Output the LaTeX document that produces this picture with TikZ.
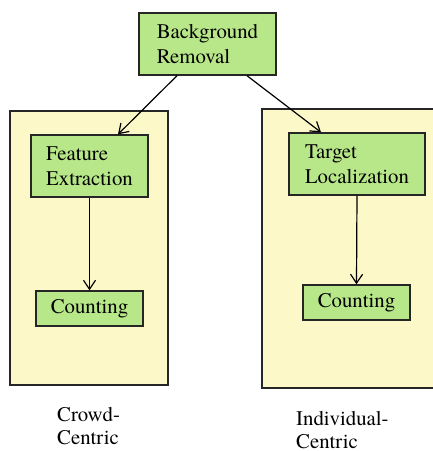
\documentclass[tikz,border=0pt]{standalone}
\usepackage{fontspec}
\setmainfont{TeX Gyre Termes}
\usetikzlibrary{arrows.meta}
\definecolor{boxgreen}{RGB}{184,231,137}
\definecolor{paleyellow}{RGB}{252,248,200}
\begin{document}
\begin{tikzpicture}[x=1pt,y=-1pt,
  every node/.style={font=\fontsize{20.8}{25}\selectfont},
  container/.style={draw=black!85,line width=1.2pt,fill=paleyellow,inner sep=0pt},
  stage/.style={draw=black!85,line width=1.4pt,fill=boxgreen,align=left,inner sep=0pt},
  flow/.style={line width=1.2pt,-{Straight Barb[length=9pt,width=12pt,line width=1.2pt]}},
  caption/.style={align=left,inner sep=0pt,anchor=north west,font=\fontsize{20.8}{23.5}\selectfont}]
\useasboundingbox (0,0) rectangle (433,451);
\node[container,minimum width=158pt,minimum height=274pt] (lc) at (89,248) {};
\node[container,minimum width=174pt,minimum height=279pt] (rc) at (349,248.5) {};
\node[stage,minimum width=137pt,minimum height=62pt] (br) at (207.5,44) {Background\\Removal};
\node[stage,minimum width=117pt,minimum height=62pt] (fe) at (89.5,166) {Feature\\Extraction};
\node[stage,minimum width=136pt,minimum height=62pt] (tl) at (357,164) {Target\\Localization};
\node[stage,minimum width=107pt,minimum height=35pt] (cl) at (89.5,308.5) {Counting};
\node[stage,minimum width=107pt,minimum height=35pt] (cr) at (356.5,302.5) {Counting};
\draw[flow] ([xshift=-30.5pt]br.south) -- ([xshift=28.5pt]fe.north);
\draw[flow] ([xshift=39.5pt]br.south) -- ([xshift=-36pt]tl.north);
\draw[flow] (fe.south) -- (cl.north);
\draw[flow] (tl.south) -- (cr.north);
\node[caption] (lcap) at (57,407) {Crowd-\\Centric};
\node[caption] (rcap) at (296,411) {Individual-\\Centric};
\end{tikzpicture}
\end{document}
